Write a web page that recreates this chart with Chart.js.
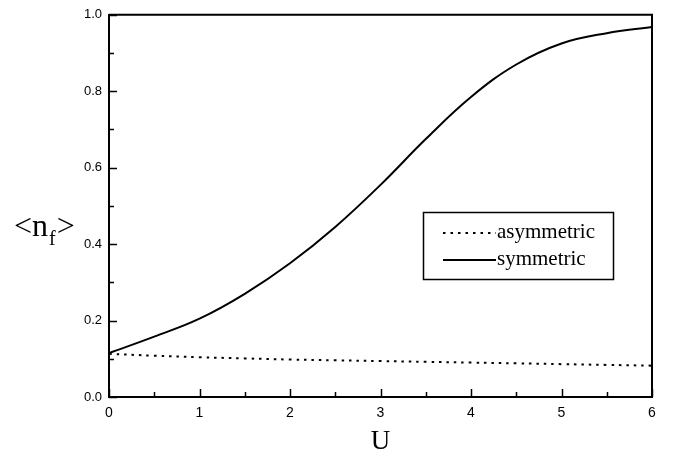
<!DOCTYPE html>
<html>
<head>
<meta charset="utf-8">
<script src="https://cdn.jsdelivr.net/npm/chart.js@4.4.1/dist/chart.umd.min.js"></script>
<style>
  html, body { margin: 0; padding: 0; background: #fff; }
  #wrap { width: 673px; height: 462px; }
</style>
</head>
<body>
<div id="wrap"><canvas id="chart"></canvas></div>
<script>
'use strict';

// U values on the x axis
let uValues = [0, 0.5, 1, 1.5, 2, 2.5, 3, 3.5, 4, 4.5, 5, 5.5, 6];

// <n_f> for the two cases
let symmetric = [0.115, 0.158, 0.205, 0.27, 0.35, 0.445, 0.555, 0.675, 0.785, 0.87, 0.925, 0.952, 0.968];
let asymmetric = [0.113, 0.108, 0.104, 0.101, 0.098, 0.096, 0.094, 0.092, 0.090, 0.088, 0.086, 0.084, 0.082];

// tick labels
let xTicks = [0, 1, 2, 3, 4, 5, 6];
let yTicks = [0.0, 0.2, 0.4, 0.6, 0.8, 1.0];

function toPoints(ys){
  return uValues.map(function(u, i){ return {x: u, y: ys[i]}; });
}

// draws the frame, inward ticks, y title and the boxed legend
let framePlugin = {
  id: 'frame',
  afterDraw: function(chart){
    let ctx = chart.ctx;
    let a = chart.chartArea;
    let xs = chart.scales.x;
    let ys = chart.scales.y;
    ctx.save();
    ctx.strokeStyle = '#000';
    ctx.lineWidth = 2;
    ctx.beginPath();
    ctx.moveTo(a.left, a.top);
    ctx.lineTo(a.right, a.top);
    ctx.lineTo(a.right, a.bottom);
    ctx.stroke();

    // x ticks, major at integers, minor at halves
    ctx.lineWidth = 1.5;
    for (let v = 0; v <= 6; v += 0.5){
      let px = Math.round(xs.getPixelForValue(v)) + 0.5;
      let len = (v % 1 === 0) ? 8 : 5;
      ctx.beginPath();
      ctx.moveTo(px, a.bottom);
      ctx.lineTo(px, a.bottom - len);
      ctx.stroke();
    }
    // y ticks, major at 0.2 steps, minor in between
    for (let i = 0; i <= 10; i++){
      let v = i / 10;
      let py = Math.round(ys.getPixelForValue(v)) + 0.5;
      let len = (i % 2 === 0) ? 8 : 5;
      ctx.beginPath();
      ctx.moveTo(a.left, py);
      ctx.lineTo(a.left + len, py);
      ctx.stroke();
    }

    // y title <n_f>
    ctx.fillStyle = '#000';
    ctx.textBaseline = 'alphabetic';
    ctx.textAlign = 'left';
    ctx.font = '32px "Liberation Serif", serif';
    let tx = 14, ty = 236;
    ctx.fillText('<n', tx, ty);
    tx += ctx.measureText('<n').width + 1;
    ctx.font = '20px "Liberation Serif", serif';
    ctx.fillText('f', tx, ty + 9);
    tx += ctx.measureText('f').width + 1;
    ctx.font = '32px "Liberation Serif", serif';
    ctx.fillText('>', tx, ty);

    // legend box
    ctx.lineWidth = 1.5;
    ctx.strokeRect(423.5, 212.5, 190, 67);
    ctx.font = '21px "Liberation Serif", serif';
    ctx.textBaseline = 'middle';
    let rows = [
      {ds: chart.data.datasets[0], y: 233},
      {ds: chart.data.datasets[1], y: 260}
    ];
    rows.forEach(function(r){
      ctx.lineWidth = r.ds.borderWidth;
      ctx.setLineDash(r.ds.borderDash || []);
      ctx.beginPath();
      ctx.moveTo(443, r.y);
      ctx.lineTo(496, r.y);
      ctx.stroke();
      ctx.setLineDash([]);
      ctx.fillText(r.ds.label, 497, r.y - 1);
    });
    ctx.restore();
  }
};

let chart = new Chart(document.getElementById('chart'), {
  type: 'line',
  data: {
    datasets: [
      {
        label: 'asymmetric',
        data: toPoints(asymmetric),
        borderColor: '#000',
        borderWidth: 2,
        borderDash: [2.5, 5],
        pointRadius: 0,
        tension: 0.4
      },
      {
        label: 'symmetric',
        data: toPoints(symmetric),
        borderColor: '#000',
        borderWidth: 2,
        pointRadius: 0,
        tension: 0.4
      }
    ]
  },
  options: {
    responsive: true,
    maintainAspectRatio: false,
    animation: false,
    layout: { padding: { left: 0, right: 21, top: 11, bottom: 0 } },
    plugins: {
      legend: { display: false },
      tooltip: { enabled: false }
    },
    scales: {
      x: {
        type: 'linear',
        min: 0,
        max: 6,
        afterFit: function(scale){ scale.height = 65; },
        afterBuildTicks: function(scale){
          scale.ticks = xTicks.map(function(v){ return {value: v}; });
        },
        grid: { display: false, drawTicks: false },
        border: { display: true, color: '#000', width: 2 },
        ticks: {
          color: '#000',
          padding: 8,
          font: { family: '"Liberation Sans", Arial, sans-serif', size: 14 },
          callback: function(v){ return String(v); }
        },
        title: {
          display: true,
          text: 'U',
          color: '#000',
          font: { family: '"Liberation Serif", serif', size: 27 },
          padding: { top: 8 }
        }
      },
      y: {
        type: 'linear',
        min: 0,
        max: 1,
        afterFit: function(scale){ scale.width = 109; },
        afterBuildTicks: function(scale){
          scale.ticks = yTicks.map(function(v){ return {value: v}; });
        },
        grid: { display: false, drawTicks: false },
        border: { display: true, color: '#000', width: 2 },
        ticks: {
          color: '#000',
          padding: 7,
          font: { family: '"Liberation Sans", Arial, sans-serif', size: 13 },
          callback: function(v){ return v.toFixed(1); }
        }
      }
    }
  },
  plugins: [framePlugin]
});
</script>
</body>
</html>
